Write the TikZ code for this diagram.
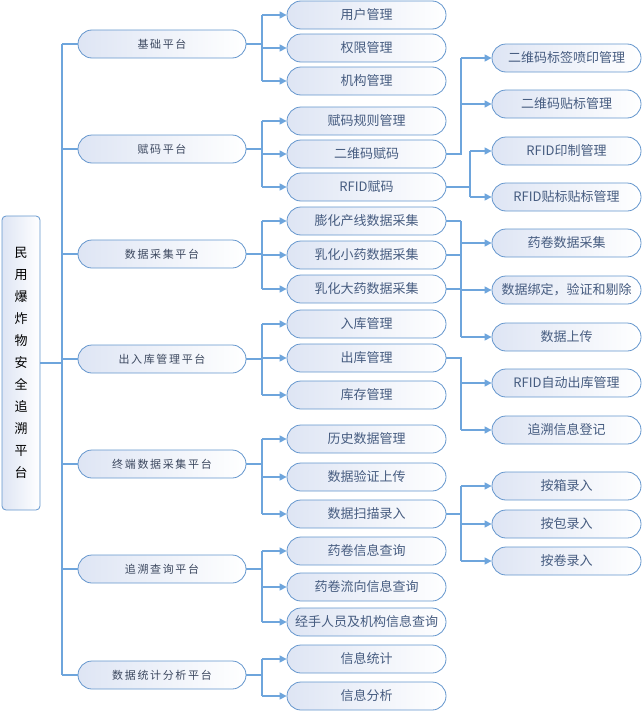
\documentclass[tikz,border=0pt]{standalone}
\usepackage{fontspec}
\newfontfamily\cjk{Noto Sans CJK SC}
\newfontfamily\cjkwide[LetterSpace=15]{Noto Sans CJK SC}
\usetikzlibrary{arrows.meta}
\definecolor{boxline}{RGB}{100,150,205}
\definecolor{wire}{RGB}{110,165,220}
\definecolor{boxfill}{RGB}{222,229,244}
\definecolor{labeltext}{RGB}{70,92,128}
\definecolor{platformtext}{RGB}{60,72,95}

\begin{document}
\begin{tikzpicture}[
            x=1pt, y=-1pt,
            every node/.style={draw=boxline, line width=0.8pt, left color=boxfill, right color=white,
                rounded corners=14pt, minimum height=28pt, inner sep=0pt, text=labeltext,
                font=\cjk\fontsize{13}{15}\selectfont},
            platform/.style={minimum width=168pt, text=platformtext, font=\cjkwide\fontsize{11}{13}\selectfont},
            module/.style={minimum width=159pt},
            task/.style={minimum width=149pt},
            link/.style={draw=wire, line width=1.2pt},
            arr/.style={link, -{Triangle[length=7pt,width=7pt]}}
        ]
            \useasboundingbox (0,0) rectangle (644,712);

            \node[minimum width=38pt, minimum height=294pt, rounded corners=4pt, text=black, align=center,
                font=\cjk\fontsize{13}{22}\selectfont] (root) at (21,363)
                {民\\用\\爆\\炸\\物\\安\\全\\追\\溯\\平\\台};

            % Platforms
            \node[platform] (base) at (162,44) {基础平台};
            \node[platform] (code) at (162,149) {赋码平台};
            \node[platform] (collect) at (162,254) {数据采集平台};
            \node[platform] (store) at (162,359) {出入库管理平台};
            \node[platform] (term) at (162,464) {终端数据采集平台};
            \node[platform] (trace) at (162,569) {追溯查询平台};
            \node[platform] (stat) at (162,675) {数据统计分析平台};

            % Modules
            \node[module] (user) at (366.5,15) {用户管理};
            \node[module] (perm) at (366.5,48) {权限管理};
            \node[module] (org) at (366.5,81) {机构管理};
            \node[module] (rule) at (366.5,121) {赋码规则管理};
            \node[module] (qrcode) at (366.5,154) {二维码赋码};
            \node[module] (rfid) at (366.5,187) {RFID赋码};
            \node[module] (puff) at (366.5,221) {膨化产线数据采集};
            \node[module] (small) at (366.5,255) {乳化小药数据采集};
            \node[module] (large) at (366.5,289) {乳化大药数据采集};
            \node[module] (instock) at (366.5,324) {入库管理};
            \node[module] (outstock) at (366.5,358) {出库管理};
            \node[module] (stock) at (366.5,395) {库存管理};
            \node[module] (hist) at (366.5,439) {历史数据管理};
            \node[module] (verify) at (366.5,477) {数据验证上传};
            \node[module] (scan) at (366.5,514) {数据扫描录入};
            \node[module] (rollinfo) at (366.5,551) {药卷信息查询};
            \node[module] (rollflow) at (366.5,587) {药卷流向信息查询};
            \node[module] (handler) at (366.5,622) {经手人员及机构信息查询};
            \node[module] (count) at (366.5,659) {信息统计};
            \node[module] (analyse) at (366.5,696) {信息分析};

            % Tasks
            \node[task] (qrprint) at (566.5,58) {二维码标签喷印管理};
            \node[task] (qrlabel) at (566.5,104) {二维码贴标管理};
            \node[task] (rfidprint) at (566.5,151) {RFID印制管理};
            \node[task] (rfidlabel) at (566.5,197) {RFID贴标贴标管理};
            \node[task] (rollcollect) at (566.5,243) {药卷数据采集};
            \node[task] (bind) at (566.5,290) {数据绑定，验证和剔除};
            \node[task] (upload) at (566.5,337) {数据上传};
            \node[task] (rfidout) at (566.5,383) {RFID自动出库管理};
            \node[task] (register) at (566.5,430) {追溯信息登记};
            \node[task] (bybox) at (566.5,486) {按箱录入};
            \node[task] (bypack) at (566.5,524) {按包录入};
            \node[task] (byroll) at (566.5,561) {按卷录入};

            % Bus lines
            \coordinate (trunk) at (62,0);
            \coordinate (fork) at (262,0);
            \coordinate (join) at (461,0);
            \coordinate (joinb) at (470,0);

            % Root to platforms
            \draw[link] (root) -- (root -| trunk);
            \draw[link] (trunk |- base) -- (trunk |- stat);
            \draw[link] (trunk |- base) -- (base);
            \draw[link] (trunk |- code) -- (code);
            \draw[link] (trunk |- collect) -- (collect);
            \draw[link] (trunk |- store) -- (store);
            \draw[link] (trunk |- term) -- (term);
            \draw[link] (trunk |- trace) -- (trace);
            \draw[link] (trunk |- stat) -- (stat);

            % Platforms to modules
            \draw[link] (base) -- (base -| fork) (fork |- user) -- (fork |- org);
            \draw[arr] (fork |- user) -- (user);
            \draw[arr] (fork |- perm) -- (perm);
            \draw[arr] (fork |- org) -- (org);

            \draw[link] (code) -- (code -| fork) (fork |- rule) -- (fork |- rfid);
            \draw[arr] (fork |- rule) -- (rule);
            \draw[arr] (fork |- qrcode) -- (qrcode);
            \draw[arr] (fork |- rfid) -- (rfid);

            \draw[link] (collect) -- (collect -| fork) (fork |- puff) -- (fork |- large);
            \draw[arr] (fork |- puff) -- (puff);
            \draw[arr] (fork |- small) -- (small);
            \draw[arr] (fork |- large) -- (large);

            \draw[link] (store) -- (store -| fork) (fork |- instock) -- (fork |- stock);
            \draw[arr] (fork |- instock) -- (instock);
            \draw[arr] (fork |- outstock) -- (outstock);
            \draw[arr] (fork |- stock) -- (stock);

            \draw[link] (term) -- (term -| fork) (fork |- hist) -- (fork |- scan);
            \draw[arr] (fork |- hist) -- (hist);
            \draw[arr] (fork |- verify) -- (verify);
            \draw[arr] (fork |- scan) -- (scan);

            \draw[link] (trace) -- (trace -| fork) (fork |- rollinfo) -- (fork |- handler);
            \draw[arr] (fork |- rollinfo) -- (rollinfo);
            \draw[arr] (fork |- rollflow) -- (rollflow);
            \draw[arr] (fork |- handler) -- (handler);

            \draw[link] (stat) -- (stat -| fork) (fork |- count) -- (fork |- analyse);
            \draw[arr] (fork |- count) -- (count);
            \draw[arr] (fork |- analyse) -- (analyse);

            % Modules to tasks
            \draw[link] (qrcode) -- (qrcode -| join) -- (join |- qrprint);
            \draw[arr] (join |- qrprint) -- (qrprint);
            \draw[arr] (join |- qrlabel) -- (qrlabel);

            \draw[link] (rfid) -- (rfid -| joinb) (joinb |- rfidprint) -- (joinb |- rfidlabel);
            \draw[arr] (joinb |- rfidprint) -- (rfidprint);
            \draw[arr] (joinb |- rfidlabel) -- (rfidlabel);

            \draw[link] (puff) -- (puff -| join) (small) -- (small -| join) (large) -- (large -| join)
                (join |- puff) -- (join |- upload);
            \draw[arr] (join |- rollcollect) -- (rollcollect);
            \draw[arr] (join |- bind) -- (bind);
            \draw[arr] (join |- upload) -- (upload);

            \draw[link] (outstock) -- (outstock -| join) -- (join |- register);
            \draw[arr] (join |- rfidout) -- (rfidout);
            \draw[arr] (join |- register) -- (register);

            \draw[link] (scan) -- (scan -| join) (join |- bybox) -- (join |- byroll);
            \draw[arr] (join |- bybox) -- (bybox);
            \draw[arr] (join |- bypack) -- (bypack);
            \draw[arr] (join |- byroll) -- (byroll);
        \end{tikzpicture}
\end{document}
